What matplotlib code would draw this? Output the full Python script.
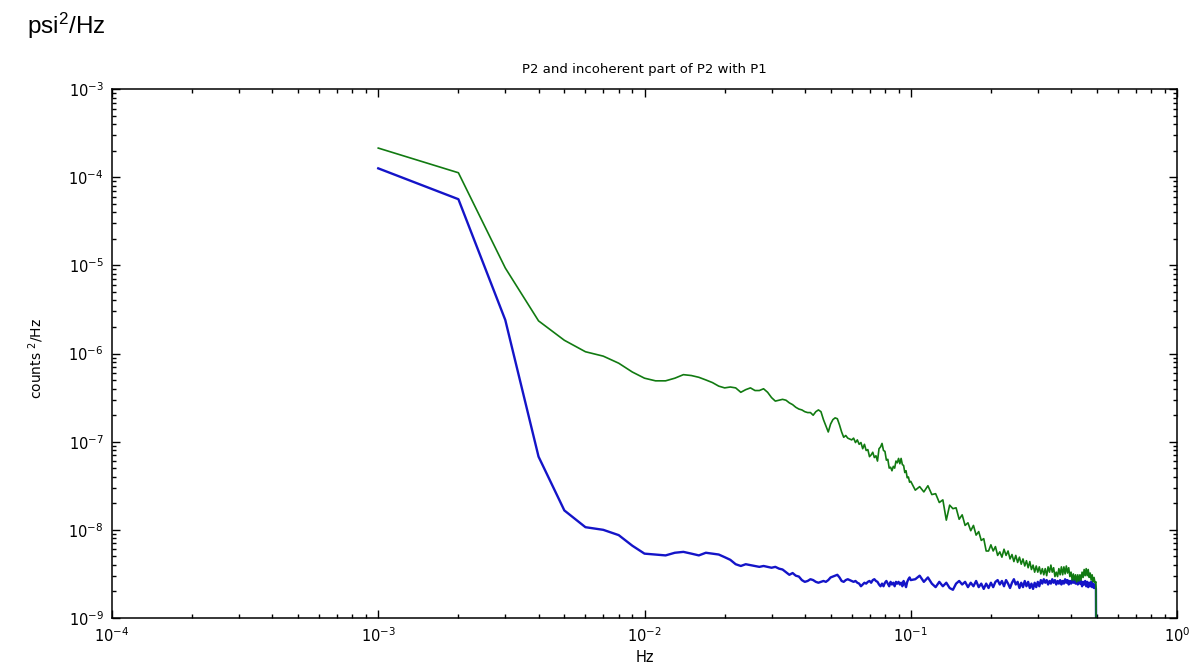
import numpy as np
import matplotlib
matplotlib.use("Agg")
import matplotlib.pyplot as plt
from matplotlib.ticker import LogLocator, NullFormatter

# Frequency grid (Hz): 0.001 steps up to 0.1, then 0.004 steps up to 0.5
freq_low = np.arange(1, 101) * 0.001
freq_high = np.arange(104, 501, 4) * 0.001
freq = np.concatenate([freq_low, freq_high])

# log10 of P2 (green) PSD, counts^2/Hz
green_log10 = [
    -3.67, -3.95, -5.03, -5.63, -5.85, -5.98, -6.03, -6.11, -6.21, -6.28,
    -6.31, -6.31, -6.28, -6.24, -6.25, -6.27, -6.30, -6.33, -6.37, -6.39,
    -6.38, -6.39, -6.44, -6.41, -6.39, -6.42, -6.42, -6.40, -6.44, -6.50,
    -6.54, -6.53, -6.52, -6.53, -6.56, -6.58, -6.61, -6.63, -6.64, -6.66,
    -6.67, -6.67, -6.70, -6.66, -6.64, -6.66, -6.75, -6.82, -6.89, -6.80,
    -6.75, -6.73, -6.74, -6.81, -6.89, -6.95, -6.93, -6.96, -6.97, -6.98,
    -6.96, -7.01, -6.98, -7.03, -7.01, -7.08, -7.03, -7.10, -7.09, -7.17,
    -7.15, -7.12, -7.18, -7.16, -7.22, -7.08, -7.06, -7.02, -7.10, -7.11,
    -7.21, -7.20, -7.30, -7.29, -7.33, -7.28, -7.30, -7.22, -7.24, -7.19,
    -7.25, -7.19, -7.26, -7.27, -7.35, -7.33, -7.41, -7.40, -7.46, -7.45,
    -7.55, -7.51, -7.57, -7.50, -7.60, -7.59, -7.69, -7.66, -7.89, -7.72,
    -7.76, -7.75, -7.88, -7.83, -7.95, -7.92, -8.01, -7.95, -8.06, -8.02,
    -8.12, -8.10, -8.24, -8.24, -8.17, -8.24, -8.19, -8.29, -8.25, -8.31,
    -8.22, -8.29, -8.24, -8.33, -8.28, -8.36, -8.29, -8.37, -8.31, -8.39,
    -8.33, -8.41, -8.35, -8.43, -8.36, -8.45, -8.40, -8.48, -8.41, -8.48,
    -8.42, -8.50, -8.44, -8.51, -8.44, -8.52, -8.42, -8.48, -8.40, -8.48,
    -8.43, -8.53, -8.48, -8.53, -8.44, -8.51, -8.42, -8.51, -8.42, -8.50,
    -8.41, -8.49, -8.43, -8.53, -8.48, -8.57, -8.50, -8.57, -8.51, -8.59,
    -8.51, -8.58, -8.51, -8.57, -8.48, -8.54, -8.45, -8.52, -8.44, -8.52,
    -8.45, -8.54, -8.49, -8.57, -8.51, -8.59, -8.54, -8.60, -8.59, -11.0,
]

# log10 of incoherent part of P2 with P1 (blue)
blue_log10 = [
    -3.90, -4.25, -5.62, -7.17, -7.78, -7.97, -8.00, -8.06, -8.18, -8.27,
    -8.28, -8.29, -8.26, -8.25, -8.27, -8.29, -8.26, -8.27, -8.28, -8.31,
    -8.34, -8.39, -8.41, -8.39, -8.40, -8.41, -8.42, -8.41, -8.42, -8.43,
    -8.42, -8.44, -8.45, -8.48, -8.51, -8.49, -8.52, -8.53, -8.57, -8.59,
    -8.58, -8.56, -8.57, -8.59, -8.60, -8.59, -8.58, -8.59, -8.57, -8.54,
    -8.53, -8.52, -8.51, -8.54, -8.58, -8.59, -8.57, -8.56, -8.57, -8.58,
    -8.59, -8.58, -8.60, -8.61, -8.64, -8.62, -8.60, -8.61, -8.59, -8.58,
    -8.60, -8.57, -8.56, -8.58, -8.59, -8.62, -8.64, -8.61, -8.64, -8.60,
    -8.58, -8.61, -8.64, -8.59, -8.62, -8.60, -8.64, -8.59, -8.61, -8.59,
    -8.62, -8.60, -8.64, -8.58, -8.61, -8.65, -8.59, -8.56, -8.54, -8.57,
    -8.56, -8.52, -8.59, -8.54, -8.61, -8.65, -8.59, -8.64, -8.60, -8.66,
    -8.68, -8.61, -8.58, -8.62, -8.59, -8.65, -8.60, -8.64, -8.58, -8.65,
    -8.61, -8.67, -8.61, -8.66, -8.60, -8.65, -8.59, -8.57, -8.62, -8.58,
    -8.64, -8.57, -8.61, -8.66, -8.60, -8.56, -8.62, -8.59, -8.66, -8.60,
    -8.65, -8.58, -8.64, -8.59, -8.66, -8.61, -8.67, -8.60, -8.65, -8.59,
    -8.64, -8.57, -8.61, -8.56, -8.60, -8.57, -8.62, -8.58, -8.61, -8.56,
    -8.60, -8.57, -8.62, -8.58, -8.61, -8.57, -8.62, -8.58, -8.61, -8.56,
    -8.60, -8.57, -8.62, -8.58, -8.61, -8.57, -8.60, -8.56, -8.61, -8.58,
    -8.62, -8.57, -8.61, -8.58, -8.64, -8.59, -8.62, -8.58, -8.64, -8.59,
    -8.65, -8.60, -8.64, -8.59, -8.65, -8.61, -8.66, -8.62, -8.67, -11.0,
]

green = 10.0 ** np.array(green_log10)
blue = 10.0 ** np.array(blue_log10)

title = "P2 and incoherent part of P2 with P1"
xlabel = "Hz"
ylabel = r"counts $^{\mathregular{2}}$/Hz"
corner_label = r"psi$^{\mathregular{2}}$/Hz"

plt.rcParams['font.family'] = ['DejaVu Sans']
plt.rcParams['mathtext.default'] = 'regular'

W, H = 1201, 670
fig = plt.figure(figsize=(W / 100, H / 100), dpi=100)
fig.patch.set_facecolor('white')

L, R, T, B = 112, 1177, 89, 618
ax = fig.add_axes([L / W, 1 - B / H, (R - L) / W, (B - T) / H])

ax.plot(freq, blue, color='#1414c8', lw=1.7)
ax.plot(freq, green, color='#117a11', lw=1.2)

ax.set_xscale('log')
ax.set_yscale('log')
ax.set_xlim(1e-4, 1e0)
ax.set_ylim(1e-9, 1e-3)

ax.xaxis.set_major_locator(LogLocator(base=10, numticks=10))
ax.yaxis.set_major_locator(LogLocator(base=10, numticks=10))
ax.xaxis.set_minor_locator(LogLocator(base=10, subs=np.arange(2, 10), numticks=20))
ax.yaxis.set_minor_locator(LogLocator(base=10, subs=np.arange(2, 10), numticks=20))
ax.xaxis.set_minor_formatter(NullFormatter())
ax.yaxis.set_minor_formatter(NullFormatter())

ax.tick_params(which='both', direction='in', top=True, right=True, colors='black',
               labelsize=10.5)
ax.tick_params(which='major', length=6, width=1)
ax.tick_params(which='minor', length=3, width=1)
ax.tick_params(axis='x', pad=6)
ax.tick_params(axis='y', pad=6)
for s in ax.spines.values():
    s.set_linewidth(1.1)
    s.set_color('black')

fig.text((L + R) / 2 / W, 1 - 70 / H, title, ha='center', va='center', fontsize=9.5)
fig.text(645 / W, 1 - 657 / H, xlabel, ha='center', va='center', fontsize=10.5)
fig.text(36 / W, 1 - 358 / H, ylabel, ha='center', va='center', fontsize=10, rotation=90)
fig.text(27 / W, 1 - 26 / H, corner_label, ha='left', va='center', fontsize=17.5,
         family='Liberation Sans')

fig.savefig('out.png', dpi=100, facecolor='white')
